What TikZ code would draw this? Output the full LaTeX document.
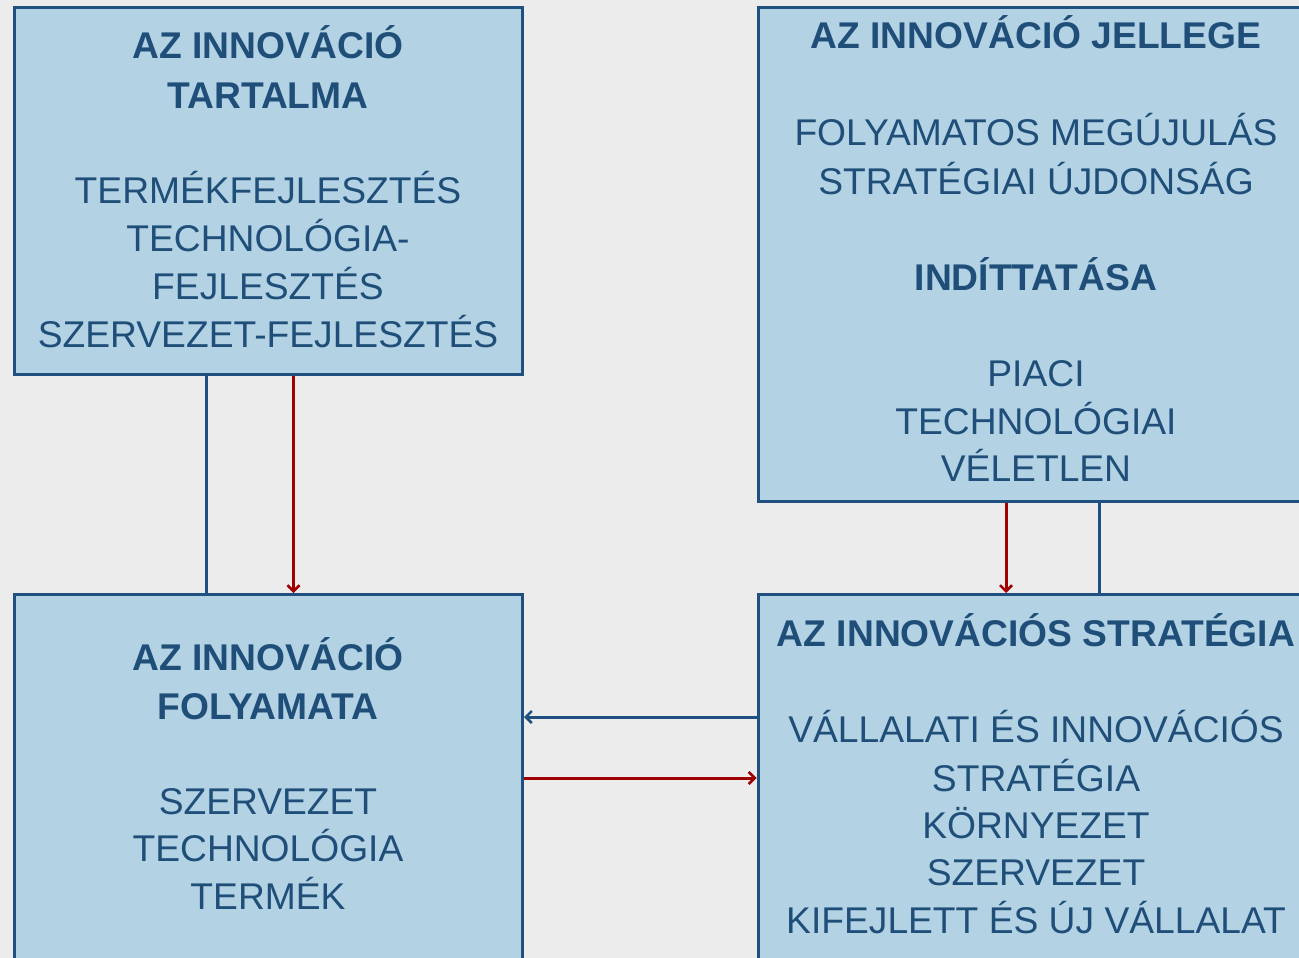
\documentclass[tikz,border=0pt]{standalone}
\usepackage{fontspec}
\setmainfont{Liberation Sans}
\usetikzlibrary{arrows.meta}
\definecolor{bgc}{HTML}{ECECEC}
\definecolor{boxfill}{HTML}{B3D2E4}
\definecolor{boxline}{HTML}{1F5080}
\definecolor{txtc}{HTML}{1F4E79}
\definecolor{redc}{HTML}{A00000}
\tikzset{
  box/.style={draw=boxline, fill=boxfill, line width=3pt, inner sep=0pt, anchor=north west},
  ttl/.style={font=\fontsize{37.2}{48}\selectfont\bfseries, text=txtc, anchor=base, inner sep=0pt},
  txt/.style={font=\fontsize{37.2}{48}\selectfont, text=txtc, anchor=base, inner sep=0pt},
  blueconn/.style={draw=boxline, line width=3pt},
  redconn/.style={draw=redc, line width=3pt},
  tip/.style={-{Straight Barb[length=6pt,width=12pt,line width=2.5pt]}}
}
\begin{document}
\begin{tikzpicture}[x=1pt,y=-1pt]
\useasboundingbox (0,0) rectangle (1299,958);
\clip (0,0) rectangle (1299,958);
\fill[bgc] (0,0) rectangle (1299,958);
% boxes
\node[box, minimum width=508pt, minimum height=367pt] (b1) at (13,6) {};
\node[box, minimum width=558pt, minimum height=494pt] (b2) at (756.5,6) {};
\node[box, minimum width=508pt, minimum height=400pt] (b3) at (13,593) {};
\node[box, minimum width=558pt, minimum height=400pt] (b4) at (756.5,593) {};
% box 1 text
\node[ttl] (t1a) at (268,59) {AZ INNOVÁCIÓ};
\node[ttl] (t1b) at (268,109) {TARTALMA};
\node[txt] (t1c) at (268,203) {TERMÉKFEJLESZTÉS};
\node[txt] (t1d) at (268,251) {TECHNOLÓGIA-};
\node[txt] (t1e) at (268,299) {FEJLESZTÉS};
\node[txt] (t1f) at (268,347) {SZERVEZET-FEJLESZTÉS};
% box 2 text
\node[ttl] (t2a) at (1036,49) {AZ INNOVÁCIÓ JELLEGE};
\node[txt] (t2b) at (1036,145) {FOLYAMATOS MEGÚJULÁS};
\node[txt] (t2c) at (1036,194) {STRATÉGIAI ÚJDONSÁG};
\node[ttl] (t2d) at (1036,290) {INDÍTTATÁSA};
\node[txt] (t2e) at (1036,386) {PIACI};
\node[txt] (t2f) at (1036,434) {TECHNOLÓGIAI};
\node[txt] (t2g) at (1036,481) {VÉLETLEN};
% box 3 text
\node[ttl] (t3a) at (268,670) {AZ INNOVÁCIÓ};
\node[ttl] (t3b) at (268,719) {FOLYAMATA};
\node[txt] (t3c) at (268,814) {SZERVEZET};
\node[txt] (t3d) at (268,861) {TECHNOLÓGIA};
\node[txt] (t3e) at (268,909) {TERMÉK};
% box 4 text
\node[ttl] (t4a) at (1036,646) {AZ INNOVÁCIÓS STRATÉGIA};
\node[txt] (t4b) at (1036,742) {VÁLLALATI ÉS INNOVÁCIÓS};
\node[txt] (t4c) at (1036,791) {STRATÉGIA};
\node[txt] (t4d) at (1036,838) {KÖRNYEZET};
\node[txt] (t4e) at (1036,885) {SZERVEZET};
\node[txt] (t4f) at (1036,933) {KIFEJLETT ÉS ÚJ VÁLLALAT};
% connectors
\draw[blueconn] ([xshift=-62pt]b1.south) -- ([xshift=-62pt]b1.south |- b3.north);
\draw[redconn, tip] ([xshift=25pt]b1.south) -- ([xshift=25pt]b1.south |- b3.north);
\draw[redconn, tip] ([xshift=-31pt]b2.south) -- ([xshift=-31pt]b2.south |- b4.north);
\draw[blueconn] ([xshift=62pt]b2.south) -- ([xshift=62pt]b2.south |- b4.north);
\draw[blueconn, tip] ([yshift=-124pt]b4.north west) -- ([yshift=-124pt]b3.north east);
\draw[redconn, tip] ([yshift=-185pt]b3.north east) -- ([yshift=-185pt]b4.north west);
\end{tikzpicture}
\end{document}
